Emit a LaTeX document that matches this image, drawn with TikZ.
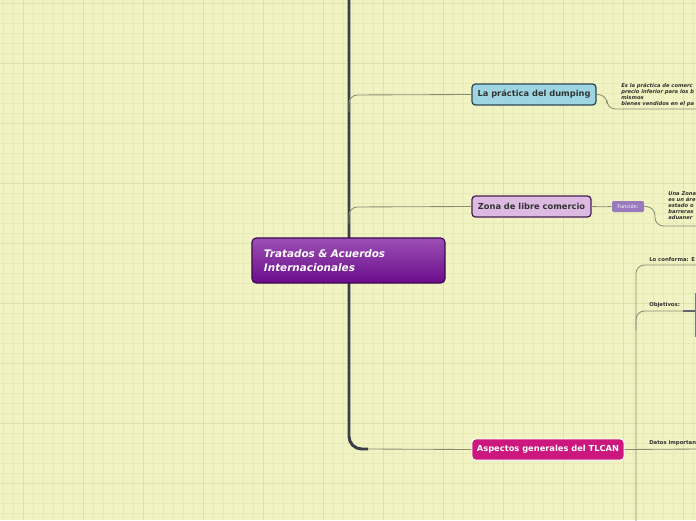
\documentclass[tikz,border=0pt]{standalone}
\usepackage{fontspec}
\setmainfont{DejaVu Sans}
\usetikzlibrary{positioning}
\definecolor{paper}{RGB}{241,243,194}
\definecolor{gridminor}{RGB}{231,234,182}
\definecolor{gridmajor}{RGB}{222,226,170}
\definecolor{trunk}{RGB}{58,62,72}
\definecolor{twig}{RGB}{140,140,115}
\definecolor{purpletop}{RGB}{156,80,180}
\definecolor{purplebot}{RGB}{106,12,138}
\definecolor{purpleline}{RGB}{60,10,78}
\definecolor{dumpfill}{RGB}{157,214,226}
\definecolor{dumpline}{RGB}{45,72,84}
\definecolor{zonafill}{RGB}{220,186,226}
\definecolor{zonaline}{RGB}{70,30,80}
\definecolor{tlcanfill}{RGB}{204,24,126}
\definecolor{funcfill}{RGB}{154,122,190}
\definecolor{inktext}{RGB}{50,50,50}

\begin{document}
\begin{tikzpicture}[x=0.025cm,y=-0.025cm,
  topic/.style={draw,rounded corners=2.5pt,line width=0.9pt,inner sep=0pt,
    minimum height=0.525cm,font=\fontsize{5.9}{7}\selectfont\bfseries,text=inktext},
  tag/.style={rounded corners=1pt,inner sep=0pt,fill=funcfill,text=white,
    minimum width=0.8cm,minimum height=0.275cm,font=\fontsize{3.6}{4}\selectfont},
  note/.style={anchor=north west,inner sep=0pt,align=left,text=inktext,
    font=\fontsize{3.7}{4.3}\selectfont\bfseries\itshape},
  sublabel/.style={anchor=south west,inner sep=0pt,text=inktext,
    font=\fontsize{3.8}{4.4}\selectfont\bfseries},
  trunkline/.style={draw=trunk,line width=2.1pt,rounded corners=9pt},
  twigline/.style={draw=twig,line width=0.6pt,rounded corners=6pt}]
\useasboundingbox (0,0) rectangle (696,520);
\begin{scope}
\clip (0,0) rectangle (696,520);
\fill[paper] (0,0) rectangle (696,520);
\foreach \gx in {3,13,...,693} \draw[gridminor,line width=0.5pt] (\gx,0) -- (\gx,520);
\foreach \gy in {3,13,...,519} \draw[gridminor,line width=0.5pt] (0,\gy) -- (696,\gy);
\foreach \gx in {23,83,...,683} \draw[gridmajor,line width=0.7pt] (\gx,0) -- (\gx,520);
\foreach \gy in {3,63,...,519} \draw[gridmajor,line width=0.7pt] (0,\gy) -- (696,\gy);

% main topics
\node[topic,fill=dumpfill,draw=dumpline,minimum width=3.1cm] (dumping) at (534,94.5) {La práctica del dumping};
\node[topic,fill=zonafill,draw=zonaline,minimum width=2.975cm] (zona) at (531.5,206.5) {Zona de libre comercio};
\node[topic,fill=tlcanfill,draw=white,text=white,line width=0.7pt,minimum width=3.8cm] (tlcan) at (548,449.5) {Aspectos generales del TLCAN};
\node[tag] (funcion) at (628,206.5) {Función:};

% trunk
\coordinate (top) at (349,0);
\coordinate (bend) at (368,449);
\draw[trunkline] (top) -- (349,449) -- (bend);
\draw[draw=twig,line width=0.6pt] (bend) -- (tlcan.west);
\draw[twigline] (349,112) -- (349,95) -- (dumping.west);
\draw[twigline] (349,224) -- (349,207) -- (zona.west);

% central topic
\node[draw=purpleline,line width=0.8pt,rounded corners=3pt,top color=purpletop,bottom color=purplebot,
  minimum width=4.825cm,minimum height=1.125cm,inner xsep=0.3cm,inner ysep=0pt,
  text width=4.225cm,align=left,text=white,
  font=\fontsize{7.4}{10}\selectfont\bfseries\itshape] (tratados) at (348.5,260.5)
  {Tratados \& Acuerdos\\Internacionales};

% dumping
\node[note] (dumpingtxt) at (621,83) {Es la práctica de comerc\\precio inferior para los b\\mismos\\bienes vendidos en el pa};
\coordinate (dumpend) at (700,109);
\draw[twigline] (dumping.east) -- (607,95) -- (607,109) -- (dumpend);

% zona
\draw[twigline] (zona.east) -- (603,207) -- (funcion.west);
\node[note] (zonatxt) at (668,191) {Una Zona\\es un áre\\estado o\\barreras\\aduaner};
\coordinate (zonaend) at (700,226);
\draw[twigline] (funcion.east) -- (655,207) -- (655,226) -- (zonaend);

% TLCAN
\coordinate (forkbot) at (636,525);
\draw[draw=twig,line width=0.6pt] (tlcan.east) -- (700,449);
\draw[twigline] (forkbot) -- (636,265) -- (700,265);
\draw[twigline] (636,330) -- (636,311) -- (700,311);
\node[sublabel] (conforma) at (649,262) {Lo conforma: E};
\node[sublabel] (objetivos) at (649,308) {Objetivos:};
\node[sublabel] (datos) at (649,446) {Datos importan};
\draw[trunk!80,line width=1pt] (683,311) -- (700,311);
\draw[trunk!70,line width=1pt] (695.5,293) -- (695.5,337);
\end{scope}
\end{tikzpicture}
\end{document}
